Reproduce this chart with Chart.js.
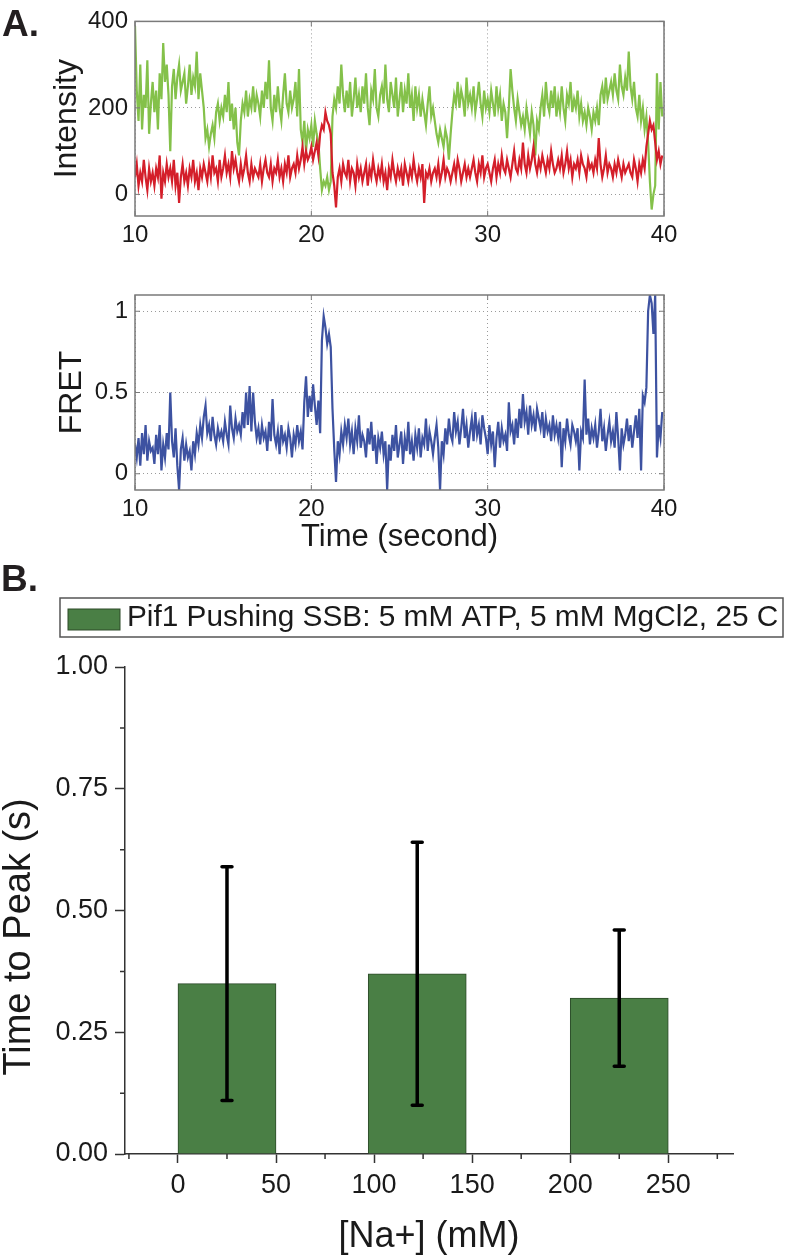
<!DOCTYPE html>
<html>
<head>
<meta charset="utf-8">
<script src="https://cdn.jsdelivr.net/npm/chart.js@4.4.1/dist/chart.umd.min.js"></script>
<style>
  body { margin: 0; background: #fff; width: 796px; height: 1257px; position: relative; overflow: hidden;
         font-family: "Liberation Sans", Arial, sans-serif; }
  .panel { position: absolute; left: 0; }
  .tag { position: absolute; font-weight: bold; font-size: 37px; line-height: 1; color: #231f20; }
</style>
</head>
<body>
<div class="panel" style="top:0"><canvas id="intensityChart" width="796" height="255"></canvas></div>
<div class="panel" style="top:255px"><canvas id="fretChart" width="796" height="305"></canvas></div>
<div class="panel" style="top:560px"><canvas id="peakChart" width="796" height="697"></canvas></div>
<div class="tag" style="left:2px;top:5px">A.</div>
<div class="tag" style="left:1px;top:560px">B.</div>

<script>
/*******  Data for the single-molecule traces (one value per 0.1 s frame, from 10 s) ******/
var traceStart = 10;
var frameStep = 0.1;

var donorIntensity = [
  390, 240, 170, 300, 150, 230, 200, 310, 140, 210,
  260, 190, 240, 150, 280, 220, 350, 260, 300, 230,
  100, 250, 290, 220, 270, 300, 240, 260, 280, 210,
  250, 300, 230, 270, 250, 330, 220, 280, 240, 200,
  130, 150, 110, 140, 160, 130, 190, 210, 170, 200,
  180, 230, 190, 260, 170, 210, 150, 200, 120, 90,
  170, 210, 190, 240, 180, 220, 200, 250, 190, 230,
  210, 180, 240, 200, 260, 220, 310, 200, 170, 230,
  190, 250, 200, 170, 230, 280, 210, 190, 240, 200,
  220, 260, 180, 290, 150, 120, 170, 100, 150, 130,
  160, 110, 170, 140, 120, 60, 10, 30, 20, 40,
  10, 30, 180, 220, 200, 250, 210, 300, 230, 190,
  240, 200, 260, 180, 220, 270, 200, 230, 190, 250,
  210, 280, 200, 160, 240, 220, 290, 200, 180, 230,
  250, 210, 300, 220, 190, 260, 230, 200, 270, 180,
  220, 260, 190, 240, 210, 280, 200, 230, 170, 250,
  200, 230, 180, 220, 190, 160, 210, 250, 180, 200,
  170, 140, 120, 150, 130, 110, 150, 130, 80, 140,
  190, 230, 210, 260, 200, 240, 220, 180, 270, 210,
  230, 200, 250, 190, 220, 260, 210, 180, 240, 200,
  220, 190, 240, 210, 180, 250, 200, 230, 170, 210,
  190, 130, 200, 290, 240, 200, 170, 220, 190, 160,
  180, 150, 200, 170, 140, 190, 160, 90, 170, 150,
  200, 230, 180, 260, 210, 190, 240, 200, 250, 180,
  220, 190, 250, 200, 170, 230, 210, 260, 190, 220,
  200, 240, 180, 210, 170, 190, 160, 200, 180, 150,
  190, 170, 200, 160, 230, 250, 210, 270, 220, 240,
  260, 230, 280, 240, 220, 300, 250, 230, 270, 240,
  330, 250, 220, 260, 200, 180, 230, 170, 200, 150,
  180, 120, 30, -35, 0, 20, 280, 150, 260, 180
];

var acceptorIntensity = [
  40, 70, 20, 50, 30, 80, 40, 10, 60, 30,
  50, 20, 60, 40, 90, -10, 50, 30, 70, 40,
  60, 30, 80, 20, 50, -20, 40, 70, 30, 50,
  20, 60, 40, 80, 30, 50, 10, 60, 40, 70,
  50, 30, 70, 40, 90, 50, 60, 30, 80, 40,
  60, 90, 50, 70, 40, 100, 60, 80, 50, 30,
  70, 40, 60, 90, 50, 30, 70, 40, 60, 50,
  40, 70, 30, 60, 80, 50, 40, 70, 30, 60,
  50, 80, 40, 60, 30, 70, 50, 90, 40, 60,
  70, 50, 90, 60, 80, 110, 70, 100, 80, 90,
  110, 80, 100, 120, 90, 140, 160, 150, 190, 170,
  160, 140, 50, 20, -30, 40, 60, 30, 70, 50,
  40, 80, 30, 60, 50, 20, 70, 40, 60, 30,
  50, 70, 20, 60, 40, 80, 50, 30, 60, 40,
  70, 30, 50, 10, 60, 40, 80, 50, 30, 60,
  40, 60, 20, 70, 50, 30, 60, 40, 80, 50,
  30, 60, 40, 70, -20, 50, 40, 60, 30, 50,
  60, 40, 70, 30, 50, 80, 40, 60, 50, 30,
  50, 70, 40, 80, 60, 30, 50, 70, 40, 60,
  40, 60, 80, 50, 30, 70, 50, 90, 40, 60,
  70, 50, 30, 60, 80, 40, 70, 50, 90, 60,
  50, 80, 60, 40, 70, 100, 60, 50, 80, 60,
  120, 70, 50, 90, 60, 80, 110, 70, 50, 80,
  60, 90, 70, 50, 80, 60, 100, 70, 50, 60,
  80, 60, 90, 50, 70, 100, 60, 80, 40, 70,
  60, 80, 50, 90, 70, 60, 40, 80, 60, 70,
  50, 80, 60, 130, 70, 40, 60, 90, 50, 70,
  60, 40, 70, 50, 80, 60, 40, 70, 50, 60,
  70, 50, 40, 80, 60, 30, 70, 50, 80, 60,
  110, 140, 170, 150, 160, 120, 80, 100, 70, 90
];

var fretEfficiency = [
  0.18, 0.10, 0.22, 0.05, 0.25, 0.12, 0.30, 0.08, 0.20, 0.14,
  0.16, 0.06, 0.24, 0.12, 0.30, 0.02, 0.18, 0.10, 0.25, 0.15,
  0.50, 0.20, 0.10, 0.28, 0.05, -0.10, 0.15, 0.22, 0.08, 0.18,
  0.10, 0.14, 0.02, 0.20, 0.12, 0.25, 0.18, 0.30, 0.22, 0.35,
  0.42, 0.25, 0.30, 0.20, 0.35, 0.24, 0.18, 0.28, 0.22, 0.26,
  0.20, 0.32, 0.24, 0.18, 0.42, 0.28, 0.22, 0.34, 0.26, 0.30,
  0.24, 0.38, 0.28, 0.50, 0.30, 0.54, 0.26, 0.50, 0.32, 0.22,
  0.28, 0.18, 0.30, 0.22, 0.26, 0.14, 0.32, 0.20, 0.46, 0.24,
  0.18, 0.26, 0.12, 0.30, 0.20, 0.24, 0.16, 0.28, 0.22, 0.10,
  0.24, 0.18, 0.30, 0.20, 0.26, 0.15, 0.44, 0.60, 0.35, 0.48,
  0.38, 0.55, 0.42, 0.30, 0.45, 0.25, 0.82, 0.97, 0.90, 0.80,
  0.86, 0.78, 0.40, 0.15, -0.05, 0.20, 0.12, 0.26, 0.18, 0.30,
  0.22, 0.34, 0.18, 0.26, 0.12, 0.28, 0.20, 0.36, 0.16, 0.24,
  0.20, 0.10, 0.28, 0.18, 0.32, 0.14, 0.24, 0.06, 0.22, 0.16,
  0.26, 0.12, 0.20, -0.10, 0.18, 0.08, 0.24, 0.14, 0.30, 0.10,
  0.18, 0.26, 0.06, 0.22, 0.14, 0.32, 0.12, 0.20, 0.08, 0.24,
  0.16, 0.28, 0.10, 0.22, 0.18, 0.34, 0.14, 0.26, 0.20, 0.12,
  0.22, 0.30, 0.16, -0.10, 0.20, 0.12, 0.28, 0.18, 0.34, 0.24,
  0.20, 0.38, 0.26, 0.32, 0.18, 0.28, 0.40, 0.22, 0.30, 0.16,
  0.26, 0.34, 0.20, 0.38, 0.24, 0.30, 0.18, 0.36, 0.28, 0.22,
  0.12, 0.30, 0.18, 0.26, 0.04, 0.22, 0.32, 0.16, 0.28, 0.20,
  0.24, 0.14, 0.44, 0.26, 0.30, 0.18, 0.34, 0.22, 0.40, 0.28,
  0.49, 0.32, 0.38, 0.24, 0.42, 0.30, 0.36, 0.26, 0.40, 0.34,
  0.28, 0.38, 0.22, 0.34, 0.26, 0.30, 0.20, 0.36, 0.24, 0.30,
  0.22, 0.32, 0.04, 0.28, 0.20, 0.34, 0.24, 0.18, 0.30, 0.26,
  0.20, 0.28, 0.02, 0.26, 0.22, 0.58, 0.24, 0.34, 0.18, 0.28,
  0.22, 0.30, 0.16, 0.26, 0.40, 0.20, 0.28, 0.14, 0.24, 0.32,
  0.20, 0.26, 0.16, 0.38, 0.22, 0.02, 0.28, 0.18, 0.24, 0.34,
  0.20, 0.30, 0.16, 0.26, 0.36, 0.22, 0.40, 0.02, 0.48, 0.44,
  0.53, 1.00, 1.10, 1.05, 0.86, 1.10, 0.10, 0.30, 0.22, 0.38
];

var timeTicks = [10, 20, 30, 40];
var intensityTicks = [0, 200, 400];
var fretTicks = [0, 0.5, 1];

/*****  Data for the time-to-peak bars ********/
var saltCenters = [25, 122, 225];
var timeToPeak = [0.35, 0.37, 0.32];
var peakErrLow = [0.11, 0.10, 0.18];
var peakErrHigh = [0.59, 0.64, 0.46];
var saltTicks = [0, 50, 100, 150, 200, 250];
var saltMinorTicks = [-25, 25, 75, 125, 175, 225, 275];
var peakTicks = [0, 0.25, 0.5, 0.75, 1];
var peakMinorTicks = [0.125, 0.375, 0.625, 0.875];

var frameTimes = [];
for (var i = 0; i < donorIntensity.length; i++) {
  frameTimes.push(Math.round((traceStart + i * frameStep) * 10) / 10);
}

Chart.defaults.font.family = '"Liberation Sans", Arial, sans-serif';
Chart.defaults.color = '#1a1a1a';
Chart.defaults.animation = false;
Chart.defaults.events = [];
Chart.defaults.plugins.legend.display = false;
Chart.defaults.plugins.tooltip.enabled = false;

function setTicks(values) {
  return function (scale) {
    scale.ticks = values.map(function (v) { return { value: v }; });
  };
}

/*****  Box + inward tick marks round the trace panels ********/
var framePlugin = {
  id: 'frame',
  afterDatasetsDraw: function (chart) {
    var a = chart.chartArea, ctx = chart.ctx;
    var xs = chart.scales.x, ys = chart.scales.y;
    ctx.save();
    ctx.strokeStyle = '#7a7a7a';
    ctx.lineWidth = 1.5;
    ctx.strokeRect(a.left, a.top, a.right - a.left, a.bottom - a.top);
    ctx.lineWidth = 1;
    ctx.beginPath();
    xs.ticks.forEach(function (t) {
      var px = xs.getPixelForValue(t.value);
      ctx.moveTo(px, a.bottom); ctx.lineTo(px, a.bottom - 5);
      ctx.moveTo(px, a.top); ctx.lineTo(px, a.top + 5);
    });
    ys.ticks.forEach(function (t) {
      var py = ys.getPixelForValue(t.value);
      ctx.moveTo(a.left, py); ctx.lineTo(a.left + 5, py);
      ctx.moveTo(a.right, py); ctx.lineTo(a.right - 5, py);
    });
    ctx.stroke();
    ctx.restore();
  }
};

function traceX(height, title) {
  return {
    type: 'linear', min: 10, max: 40,
    afterBuildTicks: setTicks(timeTicks),
    afterFit: function (s) { s.height = height; },
    grid: { color: '#9a9a9a', lineWidth: 1, drawTicks: false },
    border: { display: false, dash: [1, 3] },
    ticks: { padding: 5, font: { size: 24 }, maxRotation: 0, callback: function (v) { return String(v); } },
    title: title ? { display: true, text: title, font: { size: 31, lineHeight: 1 }, padding: { top: 0, bottom: 7.5 } }
                 : { display: false }
  };
}

function traceY(min, max, ticks, title, titlePad) {
  return {
    min: min, max: max,
    afterBuildTicks: setTicks(ticks),
    afterFit: function (s) { s.width = 135; },
    grid: { color: '#9a9a9a', lineWidth: 1, drawTicks: false },
    border: { display: false, dash: [1, 3] },
    ticks: { padding: 7, font: { size: 24 }, callback: function (v) { return String(v); } },
    title: { display: true, text: title, font: { size: 32, lineHeight: 1 }, padding: { top: titlePad, bottom: 0 } }
  };
}

/*******  Intensity traces ******/
var intensityChart = new Chart(document.getElementById('intensityChart'), {
  type: 'line',
  data: {
    labels: frameTimes,
    datasets: [
      { label: 'Acceptor', data: acceptorIntensity, borderColor: '#d41f2a', borderWidth: 2.2, pointRadius: 0 },
      { label: 'Donor', data: donorIntensity, borderColor: '#84c14a', borderWidth: 2.2, pointRadius: 0 }
    ]
  },
  options: {
    responsive: false,
    layout: { padding: { left: 0, right: 132, top: 13, bottom: 0 } },
    scales: {
      x: traceX(39, null),
      y: traceY(-50, 400, intensityTicks, 'Intensity', 51)
    }
  },
  plugins: [framePlugin]
});

/*******  FRET trace ******/
var fretChart = new Chart(document.getElementById('fretChart'), {
  type: 'line',
  data: {
    labels: frameTimes,
    datasets: [
      { label: 'FRET', data: fretEfficiency, borderColor: '#3d52a1', borderWidth: 2.2, pointRadius: 0 }
    ]
  },
  options: {
    responsive: false,
    layout: { padding: { left: 0, right: 132, top: 40, bottom: 0 } },
    scales: {
      x: traceX(70, 'Time (second)'),
      y: traceY(-0.1, 1.1, fretTicks, 'FRET', 56)
    }
  },
  plugins: [framePlugin]
});

/*****  Time to peak bars, error bars, minor ticks and boxed legend ********/
var errorBarPlugin = {
  id: 'errorBars',
  afterDatasetsDraw: function (chart) {
    var xs = chart.scales.x, ys = chart.scales.y, ctx = chart.ctx;
    ctx.save();
    ctx.strokeStyle = '#000';
    ctx.lineWidth = 3.5;
    ctx.lineCap = 'round';
    saltCenters.forEach(function (c, i) {
      var px = xs.getPixelForValue(c);
      var lo = ys.getPixelForValue(peakErrLow[i]);
      var hi = ys.getPixelForValue(peakErrHigh[i]);
      ctx.beginPath();
      ctx.moveTo(px, lo); ctx.lineTo(px, hi);
      ctx.moveTo(px - 5, lo); ctx.lineTo(px + 5, lo);
      ctx.moveTo(px - 5, hi); ctx.lineTo(px + 5, hi);
      ctx.stroke();
    });
    ctx.restore();
  }
};

var minorTickPlugin = {
  id: 'minorTicks',
  afterDraw: function (chart) {
    var a = chart.chartArea, ctx = chart.ctx;
    var xs = chart.scales.x, ys = chart.scales.y;
    ctx.save();
    ctx.strokeStyle = '#333';
    ctx.lineWidth = 1.5;
    ctx.beginPath();
    saltMinorTicks.forEach(function (v) {
      var px = xs.getPixelForValue(v);
      ctx.moveTo(px, a.bottom); ctx.lineTo(px, a.bottom + 5);
    });
    peakMinorTicks.forEach(function (v) {
      var py = ys.getPixelForValue(v);
      ctx.moveTo(a.left, py); ctx.lineTo(a.left - 5, py);
    });
    ctx.stroke();
    ctx.restore();
  }
};

var boxedLegendPlugin = {
  id: 'boxedLegend',
  afterDraw: function (chart) {
    var ctx = chart.ctx, ds = chart.data.datasets[0];
    ctx.save();
    ctx.strokeStyle = '#555';
    ctx.lineWidth = 1.5;
    ctx.strokeRect(60, 38, 723, 39);
    ctx.fillStyle = ds.backgroundColor;
    ctx.fillRect(68, 49, 52, 21);
    ctx.strokeStyle = ds.borderColor;
    ctx.lineWidth = 1;
    ctx.strokeRect(68, 49, 52, 21);
    ctx.fillStyle = '#1a1a1a';
    ctx.font = '29.8px "Liberation Sans", Arial, sans-serif';
    ctx.textBaseline = 'middle';
    ctx.fillText(ds.label, 127, 58);
    ctx.restore();
  }
};

var peakChart = new Chart(document.getElementById('peakChart'), {
  type: 'bar',
  data: {
    labels: saltCenters,
    datasets: [
      {
        label: 'Pif1 Pushing SSB: 5 mM ATP, 5 mM MgCl2, 25 C',
        data: timeToPeak,
        backgroundColor: '#4a7f45',
        borderColor: '#2c4a29',
        borderWidth: 1,
        barPercentage: 1,
        categoryPercentage: 1
      }
    ]
  },
  options: {
    responsive: false,
    layout: { padding: { left: 0, right: 63, top: 107, bottom: 0 } },
    scales: {
      x: {
        type: 'linear', min: -27, max: 283,
        offset: false,
        afterBuildTicks: setTicks(saltTicks),
        afterFit: function (s) { s.height = 103; },
        grid: { offset: false, drawOnChartArea: false, tickLength: 9, tickColor: '#333', tickWidth: 1.5 },
        border: { color: '#333', width: 1.5 },
        ticks: { padding: 6, font: { size: 27 }, maxRotation: 0, callback: function (v) { return String(v); } },
        title: { display: true, text: '[Na+] (mM)', font: { size: 36, lineHeight: 1 }, padding: { top: 0, bottom: 2 } }
      },
      y: {
        min: 0, max: 1,
        afterBuildTicks: setTicks(peakTicks),
        afterFit: function (s) { s.width = 125; },
        grid: { drawOnChartArea: false, tickLength: 10, tickColor: '#333', tickWidth: 1.5 },
        border: { color: '#333', width: 1.5 },
        ticks: { padding: 7, font: { size: 27 }, callback: function (v) { return v.toFixed(2); } },
        // trailing spaces push the centred title down to where the reference has it
        title: { display: true, text: 'Time to Peak (s)\u00a0\u00a0\u00a0\u00a0\u00a0', font: { size: 38, lineHeight: 1 }, padding: { top: 1, bottom: 0 } }
      }
    }
  },
  plugins: [errorBarPlugin, minorTickPlugin, boxedLegendPlugin]
});
</script>
</body>
</html>
